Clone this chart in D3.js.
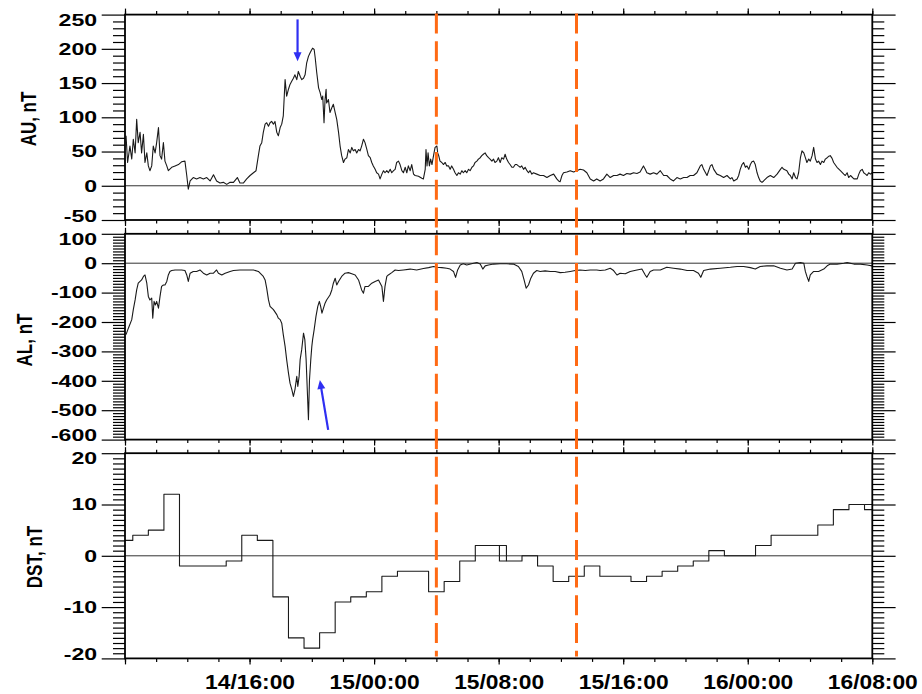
<!DOCTYPE html>
<html><head><meta charset="utf-8">
<script src="https://cdn.jsdelivr.net/npm/d3@7"></script>
<style>html,body{margin:0;padding:0;background:#fff;}svg{display:block;}</style>
</head><body>
<svg id="chart" width="922" height="694"></svg>
<script>
// ---------- DATA (time in minutes after 14/08:00) ----------
const auMin = [4,10,19,26,32,39,45,51,58,64,71,77,84,90,96,103,109,116,122,129,135,141,148,154,161,167,180,193,206,218,231,238,244,251,263,276,289,302,315,328,341,353,366,379,392,405,418,433,443,456,469,482,495,505,514,520,527,533,540,546,553,559,565,572,578,585,591,598,604,610,617,623,630,636,643,649,655,662,668,
675,681,688,694,700,707,713,720,723,729,733,739,746,752,758,762,767,771,775,777,784,790,797,803,810,816,823,829,835,842,848,855,861,868,874,880,887,893,900,906,912,919,925,932,938,945,951,957,964,970,977,983,990,996,1002,1009,1015,1022,1028,1035,1041,1047,1054,1060,1067,1073,1080,1086,1092,1099,1105,1112,1118,1131,1144,1150,1157,1160,1164,1168,1173,1178,1183,1189,1195,1202,1205,1209,1214,1221,1227,1234,1240,1247,1253,1259,1266,1272,1279,1285,1292,1298,1304,1311,1317,1324,1330,1337,1343,1349,1356,1362,1369,1375,1381,1388,1394,1401,1407,1414,1420,1426,1433,1439,1446,1452,1459,1465,1471,1478,1484,1491,1497,1504,1510,1516,1523,1529,1536,1542,1549,1555,1561,1568,1574,1587,1600,1613,1626,1639,1652,1664,1671,1677,1684,1690,1703,1716,1729,1741,1754,1767,1780,1793,1806,1818,
1831,1844,1857,1870,1883,1896,1908,1921,1934,1947,1960,1973,1985,1998,2005,2011,2024,2037,2050,2063,2076,2088,2101,2114,2127,2140,2153,2166,2178,2191,2204,2217,2223,2230,2243,2256,2262,2269,2281,2294,2307,2320,2333,2339,2346,2359,2365,2371,2378,2384,2391,2397,2404,2410,2416,2423,2429,2436,2442,2448,2455,2461,2474,2487,2500,2513,2526,2532,2539,2551,2558,2564,2571,2577,2584,2590,2596,2603,2609,2616,2622,2628,2635,2641,2648,2654,2661,2667,2673,2680,2686,2693,2699,2706,2712,2718,2725,2731,2744,2757,2770,2776,2783,2789,2796,2809,2822,2828,2834,2841,2847,2854,2860,2866,2873,2879];
const auVal = [73,34,58,39,68,48,97,63,78,48,75,34,48,29,22,29,58,48,63,85,44,39,63,36,29,22,27,29,31,35,36,15,-5,7,12,10,12,10,12,7,16,7,4,5,2,5,5,12,4,4,10,15,19,22,44,58,63,78,90,92,87,92,94,90,94,78,73,85,90,102,155,131,141,148,153,157,162,155,167,
160,155,157,162,179,189,194,199,201,199,187,165,143,136,126,131,92,126,141,121,126,107,114,119,107,97,78,58,44,34,39,41,53,48,56,51,53,48,53,51,58,68,63,53,44,41,34,29,24,19,17,10,17,22,19,22,19,24,19,22,24,34,36,31,22,19,27,19,29,22,31,17,15,14,11,10,24,53,29,48,29,39,31,44,56,58,48,44,36,34,31,34,29,29,24,29,24,19,15,19,17,22,19,22,19,24,22,27,29,34,36,39,41,44,46,48,44,41,39,36,39,34,36,41,34,41,39,46,39,34,31,27,27,31,31,29,27,29,24,27,22,19,22,17,19,17,15,15,12,15,17,10,7,6,15,19,20,22,20,22,24,23,19,10,7,10,
7,10,17,12,15,15,17,15,18,17,19,18,20,29,24,19,17,19,17,22,15,15,10,7,12,10,12,12,15,15,19,29,31,24,15,29,31,24,17,15,12,15,10,12,7,10,15,24,31,34,27,29,24,31,35,36,31,19,12,7,5,7,12,15,12,17,24,27,24,22,17,15,10,19,12,10,19,41,51,48,41,34,39,36,44,56,39,34,36,31,36,34,39,41,43,44,40,34,27,22,17,15,19,12,15,10,10,17,22,24,19,17,15,19,17,19];

const alMin = [4,13,26,32,39,45,51,58,64,71,77,84,90,96,103,107,112,117,122,129,135,141,148,154,161,167,173,180,193,206,218,231,238,244,251,263,276,289,302,315,328,341,353,360,373,386,405,418,443,469,495,514,533,540,546,553,559,572,585,591,598,604,610,617,623,630,636,643,649,655,662,666,671,
675,681,688,693,698,703,707,711,716,720,723,729,736,743,749,754,759,765,771,777,790,797,803,810,816,823,835,848,861,874,887,900,912,919,925,938,951,964,977,990,996,1002,1009,1015,1028,1041,1054,1073,1099,1124,1150,1170,1189,1202,1221,1240,1253,1266,1274,1282,1292,1304,1317,1343,1356,1369,1379,1388,1401,1420,1446,1471,1497,1516,1529,1538,1546,1555,1564,1574,1587,1600,1619,1639,1658,1677,1696,1716,1735,1754,1774,1793,1818,
1831,1851,1870,1883,1896,1908,1928,1947,1973,1992,2005,2011,2024,2037,2063,2088,2114,2140,2166,2191,2210,2219,2230,2256,2294,2333,2359,2384,2410,2429,2448,2474,2500,2526,2551,2571,2584,2603,2616,2622,2628,2635,2641,2654,2673,2693,2706,2718,2744,2770,2783,2809,2834,2860,2879];
const alVal = [-243,-221,-192,-158,-125,-91,-68,-62,-57,-45,-40,-68,-113,-125,-119,-187,-130,-142,-130,-153,-113,-79,-74,-74,-62,-40,-28,-25,-23,-23,-23,-25,-40,-62,-34,-28,-28,-23,-34,-40,-34,-34,-23,-34,-40,-34,-28,-25,-23,-23,-23,-28,-45,-57,-85,-125,-147,-158,-175,-187,-192,-204,-243,-283,-328,-374,-408,-430,-453,-430,-385,-419,-385,
-328,-294,-238,-260,-328,-442,-532,-396,-328,-283,-260,-226,-181,-147,-130,-147,-170,-153,-136,-125,-108,-91,-68,-51,-74,-62,-45,-34,-32,-36,-40,-57,-91,-102,-79,-79,-68,-62,-57,-79,-130,-79,-45,-40,-32,-23,-25,-23,-20,-23,-18,-15,-11,-14,-15,-17,-20,-28,-48,-23,-6,-2,-6,0,2,-3,-20,-9,-6,-3,-2,-2,-3,-11,-28,-57,-85,-74,-51,-34,-25,-28,-26,-28,-28,-32,-31,-28,-25,-23,-25,-23,-23,
-25,-23,-17,-25,-40,-34,-36,-28,-23,-20,-40,-48,-28,-23,-23,-14,-17,-20,-25,-25,-34,-48,-25,-20,-17,-14,-11,-11,-15,-20,-11,-9,-9,-17,-23,-20,0,2,0,-28,-45,-62,-40,-28,-28,-20,-9,-3,-3,0,2,-3,-3,-6,-9];

// hourly Dst (hours after 14/08:00)
const dstHour = [0,1,2,3,4,5,6,7,8,9,10,11,12,13,14,15,16,17,18,19,20,21,22,23,24,25,26,27,28,29,30,31,32,33,34,35,36,37,38,39,40,41,42,43,44,45,46,47,48];
const dstVal  = [3,4,5,12,-2,-2,-2,-1,4,3,-8,-16,-18,-15,-9,-8,-7,-4,-3,-3,-7,-5,-1,2,2,-1,0,-2,-5,-4,-2,-4,-4,-5,-4,-3,-2,-1,1,0,0,2,4,4,4,6,9,10,9];
// overlapping Dst pieces where the daily records join
const dstExtraHour = [24.05,24.05,24.5,NaN,47.5,48];
const dstExtraVal  = [2,-1,-1,NaN,10,10];

const auTicks  = [-50,0,50,100,150,200,250];
const alTicks  = [-600,-500,-400,-300,-200,-100,0,100];
const dstTicks = [-20,-10,0,10,20];
const xTickMin    = [0,480,960,1440,1920,2400,2880];
const xTickLabels = ["","14/16:00","15/00:00","15/08:00","15/16:00","16/00:00","16/08:00"];
const markerMin = [1200,1740];          // 15/04:00 and 15/13:00
const arrowPanel   = [0,1];
const arrowFromMin = [665,783];
const arrowFromVal = [243,-567];
const arrowToMin   = [665,751];
const arrowToVal   = [182,-397];

// ---------- LAYOUT ----------
const X0=125, X1=872.3;
const panels=[{top:14.6,bottom:220},{top:233.8,bottom:439.6},{top:453.2,bottom:658.4}];
const FONT="'Liberation Sans', Arial, Helvetica, sans-serif";
const ORANGE="#FF6A14", BLUE="#2F2FF2";
const svg=d3.select("#chart");
const x=d3.scaleLinear().domain([0,2880]).range([X0,X1]);

const specs=[
 {title:"AU, nT", domain:[-50,250], ticks:auTicks, minorStep:10, t:auMin, v:auVal, titleX:36, titleY:119, curve:d3.curveLinear},
 {title:"AL, nT", domain:[-600,100], ticks:alTicks, minorStep:10, t:alMin, v:alVal, titleX:31.5, titleY:340, curve:d3.curveLinear},
 {title:"DST, nT", domain:[-20,20], ticks:dstTicks, minorStep:1, t:dstHour.map(h=>h*60), v:dstVal, titleX:41.5, titleY:557, curve:d3.curveStep}
];

function styleTicks(g){
  g.select(".domain").remove();
  g.selectAll(".tick line").attr("stroke","#000").attr("stroke-width",1.2);
}
const xMinor=d3.range(0,2881,120);
const yScales=[];

specs.forEach((s,pi)=>{
  const p=panels[pi];
  const y=d3.scaleLinear().domain(s.domain).range([p.bottom,p.top]);
  yScales.push(y);
  const minors=d3.range(s.domain[0],s.domain[1]+s.minorStep/2,s.minorStep).filter(v=>!s.ticks.includes(v));
  const g=svg.append("g");
  const clipId="clip"+pi;
  svg.append("clipPath").attr("id",clipId).append("rect")
    .attr("x",X0).attr("y",p.top).attr("width",X1-X0).attr("height",p.bottom-p.top);

  // zero line
  g.append("line").attr("x1",X0).attr("x2",X1).attr("y1",y(0)).attr("y2",y(0))
    .attr("stroke","#333").attr("stroke-width",1);

  // data
  const line=d3.line().x((d,i)=>x(s.t[i])).y((d,i)=>y(s.v[i])).curve(s.curve);
  g.append("path").attr("d",line(s.v)).attr("fill","none").attr("stroke","#1a1a1a")
    .attr("stroke-width",1.1).attr("stroke-linejoin","round").attr("clip-path",`url(#${clipId})`);
  if(pi===2){
    const ex=d3.line().defined((d,i)=>!isNaN(dstExtraHour[i])).x((d,i)=>x(dstExtraHour[i]*60)).y((d,i)=>y(dstExtraVal[i]));
    g.append("path").attr("d",ex(dstExtraVal)).attr("fill","none").attr("stroke","#1a1a1a").attr("stroke-width",1.1);
  }

  // left / right y axes
  [["L",X0],["R",X1]].forEach(([side,xp])=>{
    const mk=side==="L"?d3.axisLeft:d3.axisRight;
    g.append("g").attr("transform",`translate(${xp},0)`)
      .call(mk(y).tickValues(minors).tickSize(12).tickFormat("")).call(styleTicks);
    const gm=g.append("g").attr("transform",`translate(${xp},0)`)
      .call(mk(y).tickValues(s.ticks).tickSize(23.3).tickPadding(4.6).tickFormat(side==="L"?(d=>String(d)):""))
      .call(styleTicks)
      .attr("font-size",16.5).attr("font-family",FONT).attr("font-weight","bold");
    if(side==="L"){
      gm.selectAll(".tick text").each(function(d){
        const tx=d3.select(this); const xx=+tx.attr("x");
        let dy=0; if(d===s.domain[1]) dy=5.5; if(d===s.domain[0]) dy=-4;
        tx.attr("x",null).attr("fill","#000").attr("transform",`translate(${xx},${dy}) scale(1.4,1)`);
      });
    }
  });

  // top / bottom x axes
  g.append("g").attr("transform",`translate(0,${p.top})`)
    .call(d3.axisTop(x).tickValues(xMinor).tickSize(3.5).tickFormat("")).call(styleTicks);
  g.append("g").attr("transform",`translate(0,${p.top})`)
    .call(d3.axisTop(x).tickValues(xTickMin).tickSize(6).tickFormat("")).call(styleTicks);
  g.append("g").attr("transform",`translate(0,${p.bottom})`)
    .call(d3.axisBottom(x).tickValues(xMinor).tickSize(3.5).tickFormat("")).call(styleTicks);
  const gb=g.append("g").attr("transform",`translate(0,${p.bottom})`)
    .call(d3.axisBottom(x).tickValues(xTickMin).tickSize(6).tickPadding(10.5)
      .tickFormat(pi===2?((d,i)=>xTickLabels[i]):""))
    .call(styleTicks)
    .attr("font-size",20).attr("font-family",FONT).attr("font-weight","bold");
  if(pi===2){
    gb.selectAll(".tick text").each(function(){
      const tx=d3.select(this); const yy=+tx.attr("y");
      tx.attr("y",null).attr("fill","#000").attr("transform",`translate(0,${yy}) scale(1.14,1)`);
    });
  }

  // frame
  g.append("rect").attr("x",X0).attr("y",p.top).attr("width",X1-X0).attr("height",p.bottom-p.top)
    .attr("fill","none").attr("stroke","#000").attr("stroke-width",1.8);

  // title
  svg.append("text").text(s.title)
    .attr("transform",`translate(${s.titleX},${s.titleY}) scale(1.3,1) rotate(-90)`)
    .attr("text-anchor","middle").attr("font-family",FONT).attr("font-weight","bold")
    .attr("font-size",17).attr("fill","#000");
});

// vertical dashed markers
markerMin.forEach(m=>{
  svg.append("line").attr("x1",x(m)).attr("x2",x(m)).attr("y1",panels[0].top-1).attr("y2",panels[2].bottom-2)
    .attr("stroke",ORANGE).attr("stroke-width",3).attr("stroke-dasharray","20,7.7");
});

// blue arrows
arrowPanel.forEach((pi,i)=>{
  const y=yScales[pi];
  const x1=x(arrowFromMin[i]), y1=y(arrowFromVal[i]), x2=x(arrowToMin[i]), y2=y(arrowToVal[i]);
  const dx=x2-x1, dy=y2-y1, L=Math.hypot(dx,dy), ux=dx/L, uy=dy/L;
  const head=9, half=4;
  const bx=x2-ux*head, by=y2-uy*head;
  svg.append("line").attr("x1",x1).attr("y1",y1).attr("x2",bx+ux).attr("y2",by+uy)
    .attr("stroke",BLUE).attr("stroke-width",2.2);
  svg.append("path").attr("d",`M${x2},${y2}L${bx-uy*half},${by+ux*half}L${bx+uy*half},${by-ux*half}Z`).attr("fill",BLUE);
});
</script>
</body></html>
